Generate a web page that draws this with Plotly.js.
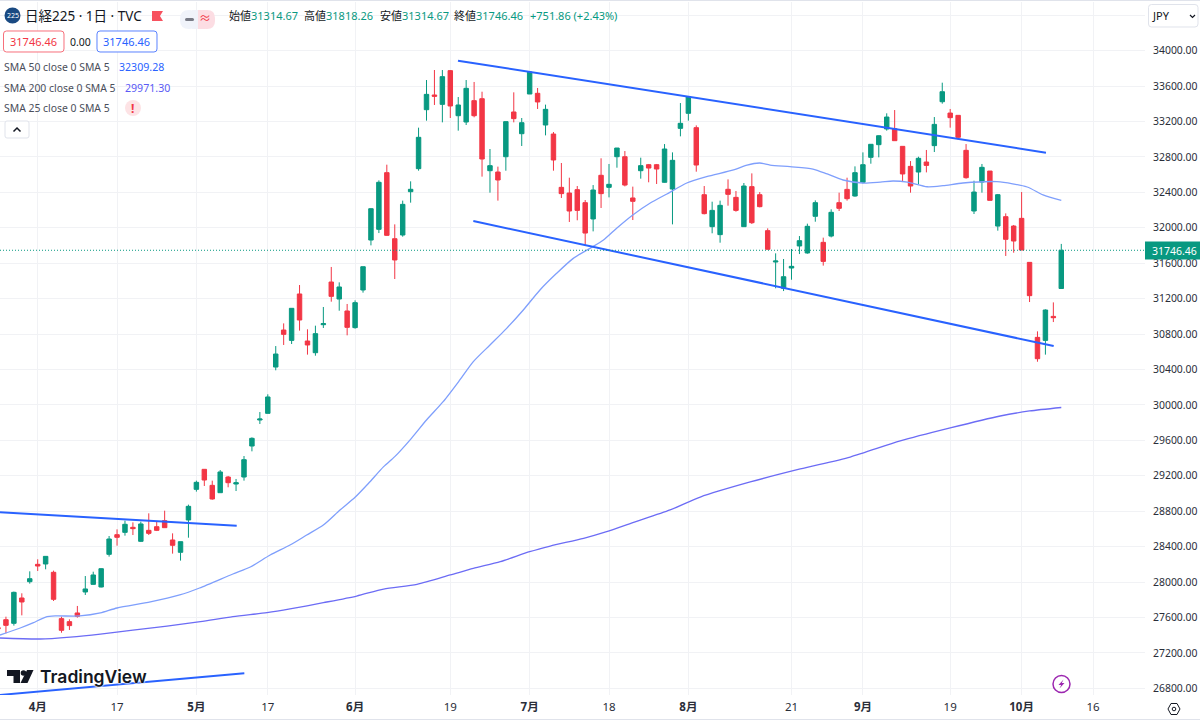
<!DOCTYPE html>
<html>
<head>
<meta charset="utf-8">
<script src="https://cdn.plot.ly/plotly-3.0.1.min.js"></script>
<style>
  html, body { margin: 0; padding: 0; background: #fff; }
</style>
</head>
<body>
<div id="chart"></div>
<script>
// Daily candles, oldest first
const open_ = [27485,27575,27534,27820,28004,28200,28204,28110,27587,27553,27651,27888,27974,27944,28313,28535,28561,28618,28460,28584,28625,28693,28475,28336,28701,
  29047,29273,29092,29009,29186,29107,29186,29536,29830,29905,30428,30846,30729,31253,30722,30590,30906,31388,31196,31061,30873,31298,
  31862,31983,32623,31877,31919,32408,32668,33334,33500,33394,33775,33266,33195,33436,33458,32645,32630,32803,33308,33063,33511,33519,33161,33059,
  32457,32393,32431,32284,32100,32593,32457,32803,32803,32337,32645,32713,32713,32514,32438,33123,33293,33131,32374,32013,31923,32435,32344,32013,32465,32374,31968,31614,
  31317,31546,31795,31716,32130,31836,31907,32284,32434,32359,32514,32796,32939,33116,33120,32920,32694,32630,32743,32928,33424,33296,33270,32875,32190,32517,32641,
  32020,32126,32020,32107,31610,30763,30729,31000,31314.67];
const high = [27496,27609,27892,27873,28121,28257,28290,28129,27609,27579,27730,28068,28117,28155,28520,28595,28693,28674,28682,28776,28682,28806,28550,28456,28874,
  29145,29273,29145,29265,29198,29164,29423,29634,29920,30120,30665,30921,31091,31354,30854,30895,31106,31558,31384,31140,31181,31561,
  32220,32536,32713,32039,32307,32525,33131,33669,33782,33782,33782,33477,33669,33647,33537,32890,32691,33199,33530,33240,33767,33579,33391,33082,
  32732,32566,32472,32314,32483,32785,32721,32901,32867,32465,32792,32721,32721,32946,32852,33409,33488,33157,32472,32295,32307,32547,32416,32506,32615,32404,31994,31712,
  31648,31761,31907,32047,32310,31889,32209,32397,32566,32694,32852,32946,33044,33293,33330,32920,32754,32803,32879,33251,33639,33342,33270,32946,32532,32721,32641,
  32382,32163,32032,32404,31610,30831,31079,31158,31818.26];
const low = [27459,27421,27508,27624,27982,28125,28144,27786,27428,27459,27598,27854,27971,27940,28287,28411,28524,28531,28452,28531,28576,28614,28321,28242,28501,
  29021,29085,28930,29009,29070,29028,29145,29476,29785,29905,30391,30677,30688,30839,30568,30556,30869,31166,31064,30786,30861,31268,
  31802,31941,31911,31422,31900,32284,32645,33210,33387,33191,33240,33097,33161,33248,32578,32397,32307,32645,33191,32924,33511,33342,33044,32645,
  32337,32066,32085,31806,31960,32224,32344,32679,32468,32088,32555,32514,32495,32510,32039,33033,33210,32634,32152,31938,31832,32250,32182,32013,32043,32231,31757,31317,
  31286,31414,31704,31708,32069,31573,31892,32190,32307,32352,32502,32724,32796,33097,32984,32517,32397,32491,32626,32856,33402,33131,32995,32555,32156,32397,32310,
  31968,31682,31719,31749,31162,30488,30568,30936,31314.67];
const close_ = [27474,27511,27884,27775,28038,28181,28290,27805,27455,27508,27613,27922,28080,28151,28486,28505,28652,28603,28656,28550,28584,28614,28415,28456,28855,
  29126,29152,28938,29243,29122,29122,29382,29623,29841,30090,30575,30797,31091,30959,30677,30805,30918,31226,31332,30876,31155,31561,
  32216,32514,31915,31637,32265,32435,33022,33507,33485,33707,33376,33387,33575,33266,32777,32702,32540,33199,33233,33187,33759,33421,33338,32766,
  32386,32190,32197,31941,32427,32386,32491,32901,32483,32299,32702,32675,32664,32890,32762,33180,33481,32709,32160,32197,32254,32378,32197,32472,32058,32239,31757,31625,
  31448,31565,31855,32017,32284,31621,32175,32220,32329,32623,32713,32943,33040,33251,32984,32608,32472,32785,32705,33168,33537,33244,33022,32566,32404,32683,32310,
  32374,31870,31851,31749,31234,30522,31072,30985,31746.46];

// Moving averages, read at a handful of places along each line
const sma50_x = [0.25,2.8,4.4,6,7.2,10.3,12.9,15,19.2,22.9,25.4,29.6,31.8,34.3,36.8,38.9,41,43.1,45,46.7,48.6,50,52.1,54,56.1,58.2,59.9,62,64.1,66.2,68.3,70.4,72.5,74.6,76.3,78,80,82.2,84.3,86.8,89.3,92.7,94.4,96,97.3,99.8,102.7,104.5,106.5,109,111.2,112.8,114.6,117.1,119.1,121.6,125.9,129.7,131.7,134];
const sma50_y = [27402,27481,27538,27605,27617,27617,27651,27707,27775,27854,27933,28091,28170,28305,28418,28531,28644,28814,28957,29115,29303,29416,29623,29830,30037,30282,30489,30677,30865,31072,31298,31486,31655,31768,31862,31998,32145,32280,32382,32506,32577,32653,32709,32732,32709,32690,32664,32608,32540,32506,32517,32529,32517,32464,32476,32506,32521,32461,32371,32309.28];
const sma200_x = [0.25,5.3,9.1,12.9,17,21.3,25.5,29.6,33.9,36.8,41,45.2,48.6,52.8,57,59.9,63.3,67,69.6,73.8,76.7,80,84.7,88.5,94.8,101.1,107.4,113.7,120,126.3,130,134];
const sma200_y = [27368,27357,27379,27413,27458,27503,27552,27609,27654,27696,27767,27842,27921,27974,28080,28155,28230,28343,28407,28494,28569,28671,28814,28960,29130,29277,29412,29593,29740,29875,29932,29971.30];

// Hand drawn trend lines
const channel_top_x = [57.97,132.07];
const channel_top_y = [33887,32848];
const channel_low_x = [59.9,133.04];
const channel_low_y = [32077,30665];
const resist_x = [0.25,30.08];
const resist_y = [28788,28636];
const support_x = [0.25,31.04];
const support_y = [26725,26970];

const x_ticks = [5,15,25,34,45,57,67,77,87,100,109,120,129,138];
const x_labels = ['<b>4月</b>','17','<b>5月</b>','17','<b>6月</b>','19','<b>7月</b>','18','<b>8月</b>','21','<b>9月</b>','19','<b>10月</b>','16'];
const y_ticks = [26800,27200,27600,28000,28400,28800,29200,29600,30000,30400,30800,31200,31600,32000,32400,32800,33200,33600,34000];
const last_price = 31746.46;

const UP = '#089981', DOWN = '#F23645', TREND = '#2962FF';
const FONT = '"Noto Sans", "Noto Sans CJK JP", sans-serif';
const W = 1200, H = 721, PLOT_R = 1145, PLOT_T = 2, PLOT_B = 695;

// page pixels to paper coordinates, the paper covers the whole page
const px = x => +(x / W).toFixed(5);
const py = y => +((H - y) / (H - PLOT_T)).toFixed(5);

function label(text, x, y, size, color, anchor) {
  return {
    text: text, xref: 'paper', yref: 'paper', x: px(anchor ? x : x - 1), y: py(y),
    xanchor: anchor || 'left', yanchor: 'middle', showarrow: false,
    borderpad: 0, font: {family: FONT, size: size, color: color}
  };
}

function round_rect(x0, y0, x1, y1, r) {
  return 'M' + px(x0 + r) + ' ' + py(y0) + ' L' + px(x1 - r) + ' ' + py(y0) +
    ' Q' + px(x1) + ' ' + py(y0) + ' ' + px(x1) + ' ' + py(y0 + r) +
    ' L' + px(x1) + ' ' + py(y1 - r) +
    ' Q' + px(x1) + ' ' + py(y1) + ' ' + px(x1 - r) + ' ' + py(y1) +
    ' L' + px(x0 + r) + ' ' + py(y1) +
    ' Q' + px(x0) + ' ' + py(y1) + ' ' + px(x0) + ' ' + py(y1 - r) +
    ' L' + px(x0) + ' ' + py(y0 + r) +
    ' Q' + px(x0) + ' ' + py(y0) + ' ' + px(x0 + r) + ' ' + py(y0) + ' Z';
}

function poly(points, closed) {
  let d = points.map((p, i) => (i ? 'L' : 'M') + px(p[0]) + ' ' + py(p[1])).join(' ');
  return closed ? d + ' Z' : d;
}

function path_shape(d, fill, line, width) {
  return {
    type: 'path', xref: 'paper', yref: 'paper', path: d,
    fillcolor: fill || 'rgba(0,0,0,0)',
    line: {color: line || 'rgba(0,0,0,0)', width: width || 0}
  };
}

function circle(cx, cy, r, fill, line, width) {
  return {
    type: 'circle', xref: 'paper', yref: 'paper',
    x0: px(cx - r), x1: px(cx + r), y0: py(cy + r), y1: py(cy - r),
    fillcolor: fill || 'rgba(0,0,0,0)',
    line: {color: line || 'rgba(0,0,0,0)', width: width || 0}
  };
}

let data = [
  {
    type: 'candlestick',
    x: open_.map((v, i) => i),
    open: open_, high: high, low: low, close: close_,
    increasing: {line: {color: UP, width: 1}, fillcolor: UP},
    decreasing: {line: {color: DOWN, width: 1}, fillcolor: DOWN},
    hoverinfo: 'skip'
  },
  {x: sma50_x, y: sma50_y, type: 'scatter', mode: 'lines', line: {color: '#7f9ffc', width: 1.3, shape: 'spline', smoothing: 0.7}, hoverinfo: 'skip'},
  {x: sma200_x, y: sma200_y, type: 'scatter', mode: 'lines', line: {color: '#6c6cf5', width: 1.3, shape: 'spline', smoothing: 0.7}, hoverinfo: 'skip'},
  {x: channel_top_x, y: channel_top_y, type: 'scatter', mode: 'lines', line: {color: TREND, width: 2}, hoverinfo: 'skip'},
  {x: channel_low_x, y: channel_low_y, type: 'scatter', mode: 'lines', line: {color: TREND, width: 2}, hoverinfo: 'skip'},
  {x: resist_x, y: resist_y, type: 'scatter', mode: 'lines', line: {color: TREND, width: 2}, hoverinfo: 'skip'},
  {x: support_x, y: support_y, type: 'scatter', mode: 'lines', line: {color: TREND, width: 2}, hoverinfo: 'skip'}
];

let shapes = [
  // last price line
  {type: 'line', xref: 'paper', yref: 'y', x0: 0, x1: px(PLOT_R), y0: last_price, y1: last_price, line: {color: UP, width: 1, dash: '1px,2px'}},
  // page edges
  {type: 'line', xref: 'paper', yref: 'paper', x0: 0, x1: 1, y0: py(0.5), y1: py(0.5), line: {color: '#e0e3eb', width: 1}},
  {type: 'line', xref: 'paper', yref: 'paper', x0: 0, x1: 1, y0: py(719.5), y1: py(719.5), line: {color: '#e0e3eb', width: 1}},
  // price tag
  {type: 'rect', xref: 'paper', yref: 'paper', x0: px(1145), x1: px(1200), y0: py(259.5), y1: py(241.5), fillcolor: UP, line: {width: 0}},
  // header badge, flag and the pill
  circle(12.5, 15.5, 8, '#1a4a82'),
  path_shape(poly([[152, 11], [163, 11], [160, 16], [163, 21], [152, 21]], true), '#f7525f'),
  path_shape(round_rect(180, 10, 198, 29, 9), '#f0f3fa'),
  path_shape(round_rect(198, 10, 215, 29, 8), '#fcdde3'),
  {type: 'rect', xref: 'paper', yref: 'paper', x0: px(198), x1: px(205), y0: py(29), y1: py(10), fillcolor: '#fcdde3', line: {width: 0}},
  {type: 'rect', xref: 'paper', yref: 'paper', x0: px(192), x1: px(198), y0: py(29), y1: py(10), fillcolor: '#f0f3fa', line: {width: 0}},
  path_shape(round_rect(185, 18, 194, 21, 1.5), '#787b86'),
  // value boxes
  path_shape(round_rect(3.5, 31, 64, 52, 3), '#ffffff', '#f7707b', 1),
  path_shape(round_rect(97, 31, 157, 52, 3), '#ffffff', '#5b83ff', 1),
  circle(133, 108, 8, '#fde3e5'),
  // collapse button
  path_shape(round_rect(5, 121, 29, 138, 2), '#ffffff', '#e0e3eb', 1),
  path_shape(poly([[13.5, 131.5], [17, 128], [20.5, 131.5]]), null, '#131722', 1.5),
  // currency button
  path_shape(round_rect(1148.5, 4.5, 1198, 27, 3), '#ffffff', '#e0e3eb', 1),
  path_shape(poly([[1190, 15], [1192.5, 17.5], [1195, 15]]), null, '#131722', 1.2),
  // TradingView mark
  path_shape(poly([[7, 670], [20, 670], [20, 683], [13.5, 683], [13.5, 676], [7, 676]], true), '#131722'),
  circle(23.5, 673, 2.8, '#131722'),
  path_shape(poly([[27, 670], [33.5, 670], [27.5, 683], [20.5, 683]], true), '#131722'),
  // lightning badge
  circle(1061.5, 684, 8.5, '#ffffff', '#9c27b0', 1.5),
  path_shape(poly([[1063.5, 679.5], [1058.5, 685], [1061.2, 685], [1059.5, 688.5], [1064.5, 683], [1061.8, 683]], true), '#9c27b0'),
  // settings hexagon
  path_shape(poly([[1168, 709], [1171, 703.5], [1177, 703.5], [1180, 709], [1177, 714.5], [1171, 714.5]], true), '#ffffff', '#131722', 1),
  circle(1174, 709, 1.8, '#ffffff', '#131722', 1)
];

const value = t => '<span style="color:' + UP + '">' + t + '</span>';

let annotations = [
  label('225', 12.5, 15.5, 7, '#ffffff', 'center'),
  label('日経225 · 1日 · TVC', 25, 15.5, 13.5, '#131722'),
  label('≈', 205, 18.5, 12, '#f23645', 'center'),
  label('始値' + value('31314.67'), 229, 15.5, 11, '#131722'),
  label('高値' + value('31818.26'), 304, 15.5, 11, '#131722'),
  label('安値' + value('31314.67'), 380, 15.5, 11, '#131722'),
  label('終値' + value('31746.46'), 454, 15.5, 11, '#131722'),
  label(value('+751.86 (+2.43%)'), 530, 15.5, 11, '#131722'),
  label('31746.46', 33.7, 41.5, 11, '#F23645', 'center'),
  label('0.00', 80.5, 41.5, 10.5, '#131722', 'center'),
  label('31746.46', 127, 41.5, 11, '#2962FF', 'center'),
  label('SMA 50 close 0 SMA 5', 4, 66.5, 10.4, '#4a4e5a'),
  label('32309.28', 119, 66.5, 10.6, '#2962FF'),
  label('SMA 200 close 0 SMA 5', 4, 87.5, 10.4, '#4a4e5a'),
  label('29971.30', 125, 87.5, 10.6, '#5b5bf5'),
  label('SMA 25 close 0 SMA 5', 4, 108.5, 10.4, '#4a4e5a'),
  label('<b>!</b>', 133, 108, 12, '#F23645', 'center'),
  label('JPY', 1152, 15.5, 11, '#131722'),
  label('31746.46', 1152, 250.5, 10.5, '#ffffff'),
  label('TradingView', 40, 677, 17.5, '#131722')
];
annotations[annotations.length - 1].font.family = 'Inter, "Noto Sans", sans-serif';
annotations[annotations.length - 1].font.weight = 600;
annotations[annotations.length - 1].font.shadow = '0 0 2px #fff, 0 0 2px #fff, 0 0 2px #fff';

let layout = {
  width: W,
  height: H,
  margin: {l: 0, r: 0, t: PLOT_T, b: 0, pad: 0},
  paper_bgcolor: '#ffffff',
  plot_bgcolor: '#ffffff',
  showlegend: false,
  boxgap: 0.2,
  hovermode: false,
  font: {family: FONT, size: 12, color: '#131722'},
  xaxis: {
    type: 'linear',
    domain: [0, PLOT_R / W],
    range: [0.25, 144.55],
    rangeslider: {visible: false},
    tickvals: x_ticks,
    ticktext: x_labels,
    tickangle: 0,
    ticks: 'outside',
    ticklen: 1,
    tickcolor: 'rgba(0,0,0,0)',
    tickfont: {family: FONT, size: 11.5, color: '#2a2e39'},
    showgrid: true,
    gridcolor: '#f1f2f5',
    gridwidth: 1,
    zeroline: false,
    showline: false
  },
  yaxis: {
    type: 'linear',
    side: 'right',
    domain: [(H - PLOT_B) / (H - PLOT_T), 1],
    range: [26724.6, 34550],
    tickvals: y_ticks.concat([34400]),
    ticktext: y_ticks.map(v => v.toFixed(2)).concat(['']),
    ticks: 'outside',
    ticklen: 5,
    tickcolor: 'rgba(0,0,0,0)',
    tickfont: {family: FONT, size: 10.4, color: '#2a2e39'},
    showgrid: true,
    gridcolor: '#f1f2f5',
    gridwidth: 1,
    zeroline: false,
    showline: false
  },
  shapes: shapes,
  annotations: annotations
};

Plotly.newPlot('chart', data, layout, {displayModeBar: false, staticPlot: true});
</script>
</body>
</html>
